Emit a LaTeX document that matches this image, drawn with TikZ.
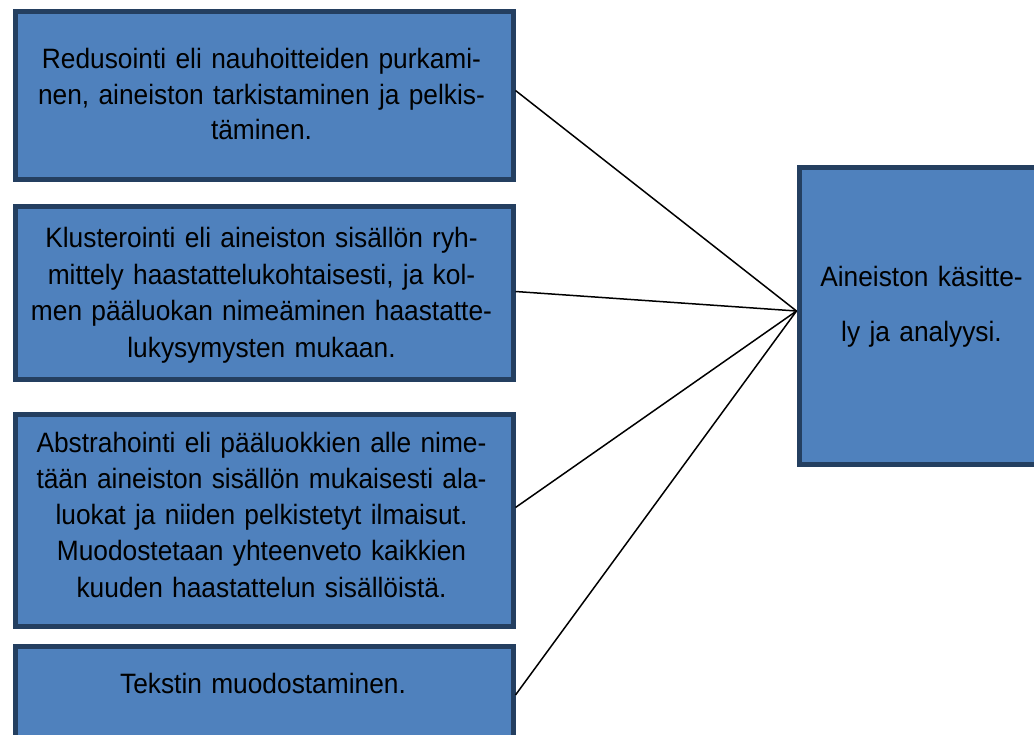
\documentclass[tikz,border=0pt]{standalone}
\usepackage{fontspec}
\setmainfont{Liberation Sans}[FakeStretch=0.94]
\definecolor{boxfill}{HTML}{4F81BD}
\definecolor{boxline}{HTML}{243F60}
\begin{document}
\begin{tikzpicture}[x=1pt,y=-1pt,
  box/.style={rectangle, draw=boxline, fill=boxfill, line width=5pt, inner sep=0pt, anchor=north west},
  txt/.style={anchor=base, align=center, text width=480pt, inner sep=0pt, font=\fontsize{28}{36.5}\selectfont},
  link/.style={line width=1.5pt, black}]
\useasboundingbox (0,0) rectangle (1034,735);
\clip (0,0) rectangle (1034,735);
\node[box, minimum width=498pt, minimum height=168pt] (b1) at (12.5,9.5) {};
\node[box, minimum width=498pt, minimum height=173pt] (b2) at (12.5,204.5) {};
\node[box, minimum width=498pt, minimum height=212pt] (b3) at (12.5,411.5) {};
\node[box, minimum width=498pt, minimum height=98pt] (b4) at (12.5,643.5) {};
\node[box, minimum width=260pt, minimum height=296pt] (r) at (796.5,165.5) {};

\node[txt, font=\fontsize{28}{35.5}\selectfont] (t1) at (261.5,69) {Redusointi eli nauhoitteiden purkami-\\nen, aineiston tarkistaminen ja pelkis-\\täminen.};
\node[txt] (t2) at (261.5,248) {Klusterointi eli aineiston sisällön ryh-\\mittely haastattelukohtaisesti, ja kol-\\men pääluokan nimeäminen haastatte-\\lukysymysten mukaan.};
\node[txt, font=\fontsize{28}{36.3}\selectfont] (t3) at (261.5,452) {Abstrahointi eli pääluokkien alle nime-\\tään aineiston sisällön mukaisesti ala-\\luokat ja niiden pelkistetyt ilmaisut.\\Muodostetaan yhteenveto kaikkien\\kuuden haastattelun sisällöistä.};
\node[txt] (t4) at (263,693) {Tekstin muodostaminen.};
\node[txt, text width=230pt, font=\fontsize{28}{55}\selectfont] (t5) at (921.5,287) {Aineiston käsitte-\\ly ja analyysi.};

\draw[link] ([yshift=5.5pt]b1.east) -- ([yshift=5pt]r.west);
\draw[link] ([yshift=2pt]b2.east) -- ([yshift=5pt]r.west);
\draw[link] ([yshift=12.5pt]b3.east) -- ([yshift=5pt]r.west);
\draw[link] (b4.east) -- ([yshift=5pt]r.west);
\end{tikzpicture}
\end{document}
